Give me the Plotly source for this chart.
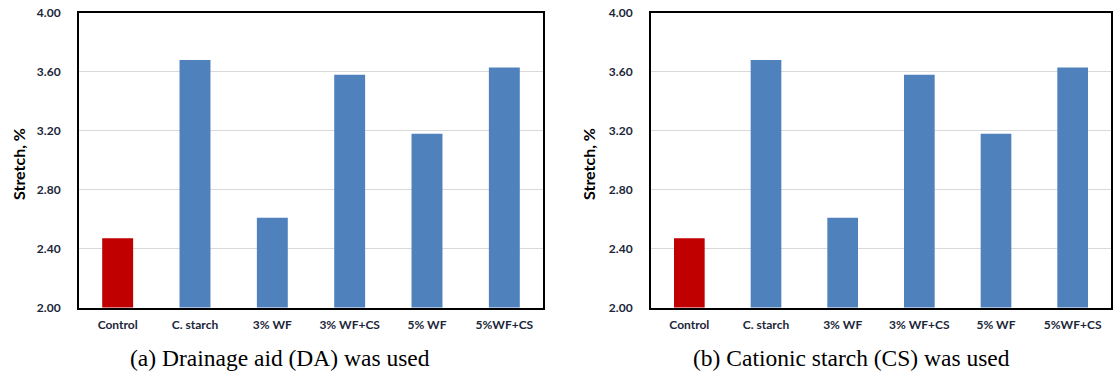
import plotly.graph_objects as go

# Stretch (%) of handsheets for each furnish treatment
categories = ["Control", "C. starch", "3% WF", "3% WF+CS", "5% WF", "5%WF+CS"]
stretch_da = [2.47, 3.68, 2.61, 3.58, 3.18, 3.63]   # drainage aid used
stretch_cs = [2.47, 3.68, 2.61, 3.58, 3.18, 3.63]   # cationic starch used
bar_colors = ["#C00000", "#4F81BD", "#4F81BD", "#4F81BD", "#4F81BD", "#4F81BD"]
y_ticks = [2.0, 2.4, 2.8, 3.2, 3.6, 4.0]
captions = ["(a) Drainage aid (DA) was used", "(b) Cationic starch (CS) was used"]

W, H = 1113, 378
TICK_FONT = dict(family="Lato, Carlito, Calibri, sans-serif", size=12,
                 color="#1B2638", weight="bold")

fig = go.Figure()
for i, vals in enumerate([stretch_da, stretch_cs]):
    sfx = "" if i == 0 else str(i + 1)
    fig.add_trace(go.Bar(
        x=categories, y=vals, width=0.4,
        marker=dict(color=bar_colors, line=dict(width=0)),
        xaxis="x" + sfx, yaxis="y" + sfx, showlegend=False,
    ))

x_domains = [[79 / W, 543 / W], [651 / W, 1111 / W]]
y_domain = [1 - 307.5 / H, 1 - 13 / H]

layout = dict(
    width=W, height=H, margin=dict(l=0, r=0, t=0, b=0),
    paper_bgcolor="white", plot_bgcolor="white",
)
for i in range(2):
    sfx = "" if i == 0 else str(i + 1)
    layout["xaxis" + sfx] = dict(
        domain=x_domains[i], anchor="y" + sfx, automargin=False,
        showline=True, mirror=True, linecolor="black", linewidth=2,
        ticks="", tickfont=TICK_FONT, ticklabelstandoff=5,
        showgrid=False, fixedrange=True,
    )
    layout["yaxis" + sfx] = dict(
        domain=y_domain, anchor="x" + sfx, range=[2.0, 4.0], automargin=False,
        tickvals=y_ticks, tickformat=".2f",
        showline=True, mirror=True, linecolor="black", linewidth=2,
        ticks="", tickfont=TICK_FONT, ticklabelstandoff=14,
        showgrid=True, gridcolor="#D9D9D9", gridwidth=1,
        zeroline=False, fixedrange=True,
    )
fig.update_layout(**layout)

# Axis titles and panel captions
title_x = [18 / W, 588 / W]
caption_x = [280 / W, 851 / W]
for i in range(2):
    fig.add_annotation(
        text="<b>Stretch, %</b>", textangle=-90,
        x=title_x[i], y=1 - 164 / H, xref="paper", yref="paper",
        xanchor="center", yanchor="middle",
        showarrow=False, font=dict(family="Lato, Carlito, sans-serif", size=16, color="black"),
    )
    fig.add_annotation(
        text=captions[i], x=caption_x[i], y=1 - 358 / H, xref="paper", yref="paper",
        xanchor="center", yanchor="middle",
        showarrow=False, font=dict(family="Liberation Serif, Times New Roman, serif", size=23.5, color="black"),
    )

fig.write_html("out.html")
